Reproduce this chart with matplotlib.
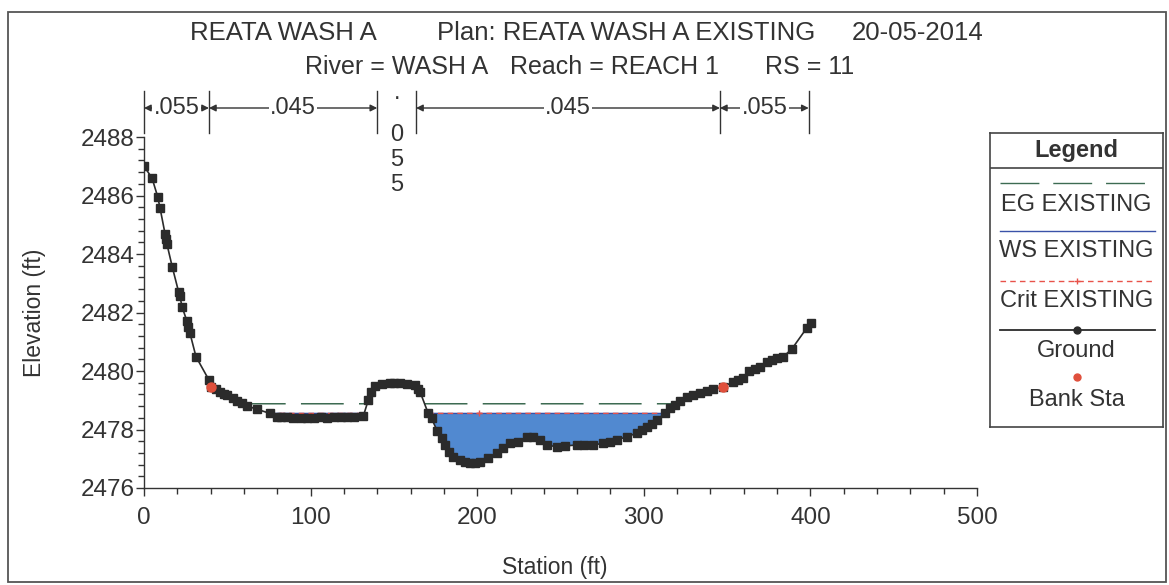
import numpy as np
import matplotlib
matplotlib.use("Agg")
import matplotlib.pyplot as plt
from matplotlib.patches import Rectangle

plt.rcParams['font.family'] = ['Liberation Sans', 'DejaVu Sans']

# ---------------- data ----------------
title_line1 = ["REATA WASH A", "Plan: REATA WASH A EXISTING", "20-05-2014"]
title_line2 = ["River = WASH A", "Reach = REACH 1", "RS = 11"]

ground_sta = [0, 4.8, 8.2, 9.6, 12.6, 13.2, 13.8, 17.0, 20.8, 21.6, 22.8, 25.8, 26.6,
              27.6, 31.2, 39.0, 40.0, 43.0, 45.6, 48.0, 49.6, 53.6, 56.0, 58.6, 62.0,
              68.0, 75.6, 79.6, 82, 86, 89.6, 94, 97.6, 102, 106, 110, 114, 118, 122,
              126, 131.6, 134.6, 136.2, 138.6, 143, 147.7, 150, 153.7, 158, 162.7,
              164.5, 165.7, 170.6, 172.6, 176, 178.6, 180.7, 183.3, 185.7, 189.7,
              192.7, 195.7, 198.7, 201.7, 206.7, 211.7, 215.7, 219.7, 224.7, 229.7,
              233.7, 237.7, 241.7, 247.7, 253, 259.7, 264, 269.7, 275.7, 279.7, 283.7,
              289.7, 295.7, 298.7, 301.7, 304.7, 307.7, 312.7, 315.7, 318.7, 321.7,
              325.7, 329.7, 333.7, 337.7, 341.7, 347.5, 353.7, 356.7, 359.7, 363.3,
              366.7, 369.7, 373.7, 376.7, 379.7, 383.7, 388.7, 397.7, 400.3]
ground_elev = [2487.0, 2486.6, 2485.96, 2485.58, 2484.7, 2484.5, 2484.33, 2483.55, 2482.7,
               2482.55, 2482.2, 2481.7, 2481.5, 2481.29, 2480.49, 2479.69, 2479.46, 2479.38,
               2479.29, 2479.22, 2479.18, 2479.07, 2478.98, 2478.9, 2478.8, 2478.69, 2478.55,
               2478.44, 2478.42, 2478.42, 2478.4, 2478.41, 2478.38, 2478.4, 2478.42, 2478.41,
               2478.42, 2478.42, 2478.43, 2478.43, 2478.45, 2479.0, 2479.29, 2479.49, 2479.57,
               2479.6, 2479.6, 2479.58, 2479.56, 2479.52, 2479.4, 2479.29, 2478.55, 2478.38,
               2477.95, 2477.7, 2477.47, 2477.24, 2477.07, 2476.96, 2476.88, 2476.84, 2476.86,
               2476.9, 2477.01, 2477.19, 2477.36, 2477.53, 2477.58, 2477.75, 2477.75, 2477.64,
               2477.47, 2477.41, 2477.44, 2477.47, 2477.47, 2477.47, 2477.53, 2477.58, 2477.64,
               2477.75, 2477.87, 2477.98, 2478.1, 2478.2, 2478.32, 2478.55, 2478.72, 2478.84,
               2478.98, 2479.12, 2479.18, 2479.24, 2479.3, 2479.37, 2479.46, 2479.63, 2479.69,
               2479.75, 2480.0, 2480.08, 2480.15, 2480.32, 2480.38, 2480.43, 2480.49, 2480.74,
               2481.46, 2481.65]

bank_sta = [40.0, 347.5]
ws_elev = 2478.55
crit_elev = 2478.55
crit_sta = 201.0
eg_elev = 2478.88

n_break_sta = [0, 39, 140, 163.3, 345.7, 399]
n_values = [".055", ".045", ".055", ".045", ".055"]

x_ticks = [0, 100, 200, 300, 400, 500]
y_ticks = [2476, 2478, 2480, 2482, 2484, 2486, 2488]

legend_labels = ["EG EXISTING", "WS EXISTING", "Crit EXISTING", "Ground", "Bank Sta"]

# ---------------- styles ----------------
FS_TICK = 17.5
FS_AX = 16.5
FS_T = 18.5
FS_L = 17
EG_COLOR = '#3d6b52'
WS_COLOR = '#3a52a8'
CRIT_COLOR = '#e8524a'
FILL_COLOR = '#5189d0'
GROUND_COLOR = '#2b2b2b'
BANK_COLOR = '#e0503c'
TXT = '#333333'

W, H = 1169, 585
fig = plt.figure(figsize=(W / 100, H / 100), dpi=100)

# figure frame
fig.add_artist(Rectangle((8 / W, 1 - 582 / H), (1166 - 8) / W, (582 - 12) / H,
                         transform=fig.transFigure, fill=False, ec='#555555', lw=1.3))

ax = fig.add_axes([144 / W, 1 - 488 / H, (977 - 144) / W, (488 - 137) / H])
ax.set_xlim(0, 500)
ax.set_ylim(2476, 2488)
for s in ['top', 'right']:
    ax.spines[s].set_visible(False)
for s in ['left', 'bottom']:
    ax.spines[s].set_color('#333333')
    ax.spines[s].set_linewidth(1.0)

ax.set_xticks(x_ticks)
ax.set_yticks(y_ticks)
ax.set_xticks(np.arange(0, 501, 20), minor=True)
ax.set_yticks(np.arange(2476, 2488.01, 0.4), minor=True)
ax.tick_params(which='major', direction='out', length=6, width=1, colors='#333333',
               labelsize=FS_TICK, labelcolor=TXT)
ax.tick_params(axis='x', which='major', pad=8)
ax.tick_params(axis='y', which='major', pad=0.5)
ax.tick_params(which='minor', direction='out', length=4, width=1, colors='#333333')

ax.set_xlabel('Station (ft)', fontsize=FS_AX, color=TXT)
ax.set_ylabel('Elevation (ft)', fontsize=FS_AX, color=TXT)
ax.xaxis.set_label_coords((555 - 144) / 833, (488 - 556) / 351)
ax.yaxis.set_label_coords((46 - 144) / 833, (488 - 313) / 351)

gs = np.array(ground_sta)
ge = np.array(ground_elev)
fine = np.linspace(gs.min(), gs.max(), 4000)
gfine = np.interp(fine, gs, ge)

# water fill
ax.fill_between(fine, gfine, ws_elev, where=gfine <= ws_elev, color=FILL_COLOR,
                lw=0, zorder=1)
# WS line
ws_line = np.where(gfine <= ws_elev + 0.005, ws_elev, np.nan)
ax.plot(fine, ws_line, color=WS_COLOR, lw=1.0, zorder=2)
# Crit line
ax.plot(fine, ws_line * 0 + crit_elev, color=CRIT_COLOR, lw=1.0, dashes=(4, 3), zorder=3)
ax.plot([crit_sta], [crit_elev], marker='+', color=CRIT_COLOR, ms=5, mew=1, zorder=3)
# EG line
eg_line = np.where(gfine <= eg_elev, eg_elev, np.nan)
ax.plot(fine, eg_line, color=EG_COLOR, lw=1.1, dashes=(28, 10), zorder=2)
# ground
ax.plot(gs, ge, color=GROUND_COLOR, lw=1.2, marker='s', ms=6, mfc=GROUND_COLOR,
        mec=GROUND_COLOR, zorder=4)
# bank stations
ax.plot(bank_sta, np.interp(bank_sta, gs, ge), 'o', color=BANK_COLOR, ms=6.5, zorder=5)

# Manning's n markers
trans = ax.get_xaxis_transform()
def fy(px):
    return 1 + (137 - px) / 351

y_lo, y_hi, y_arrow = fy(133), fy(91), fy(108)
for s in n_break_sta:
    ax.plot([s, s], [y_lo, y_hi], transform=trans, color='#333333', lw=1.0, clip_on=False)
vert_centers = [93, 135, 160, 185]
for i, v in enumerate(n_values):
    a, b = n_break_sta[i], n_break_sta[i + 1]
    mid = (a + b) / 2
    if b - a < 30:
        for ch, py in zip(v, vert_centers):
            ax.text(mid, fy(py), ch, transform=trans, ha='center', va='center',
                    fontsize=FS_L, color=TXT)
        continue
    ax.annotate('', xy=(b, y_arrow), xytext=(a, y_arrow), xycoords=trans, textcoords=trans,
                arrowprops=dict(arrowstyle='<|-|>', color='#333333', lw=1.0,
                                shrinkA=0, shrinkB=0, mutation_scale=10),
                annotation_clip=False)
    ax.text(mid, y_arrow, v, transform=trans, ha='center', va='center', fontsize=FS_L,
            color=TXT, bbox=dict(fc='white', ec='none', pad=1.0))

# titles
for txt, x in zip(title_line1, [190, 437, 852]):
    fig.text(x / W, 1 - 33 / H, txt, ha='left', va='center', fontsize=FS_T, color=TXT)
for txt, x in zip(title_line2, [305, 510, 765]):
    fig.text(x / W, 1 - 67 / H, txt, ha='left', va='center', fontsize=18, color=TXT)

# legend box
lx0, ly0, lx1, ly1 = 990, 133, 1163, 427
lax = fig.add_axes([lx0 / W, 1 - ly1 / H, (lx1 - lx0) / W, (ly1 - ly0) / H])
lax.set_xlim(0, lx1 - lx0)
lax.set_ylim(ly1 - ly0, 0)
lax.set_xticks([])
lax.set_yticks([])
for sp in lax.spines.values():
    sp.set_color('#444444')
    sp.set_linewidth(1.2)
lw_ = lx1 - lx0
lax.text(lw_ / 2, 17, "Legend", ha='center', va='center', fontsize=FS_L, fontweight='bold',
         color=TXT)
lax.plot([0, lw_], [35, 35], color='#444444', lw=1.2)
x_a, x_b = 10, lw_ - 8
lax.plot([x_a, x_b], [50, 50], color=EG_COLOR, lw=1.0, dashes=(28, 10))
lax.text(lw_ / 2, 72, legend_labels[0], ha='center', va='center', fontsize=FS_L, color=TXT)
lax.plot([x_a, x_b], [98, 98], color=WS_COLOR, lw=1.0)
lax.text(lw_ / 2, 118, legend_labels[1], ha='center', va='center', fontsize=FS_L, color=TXT)
lax.plot([x_a, x_b], [148, 148], color=CRIT_COLOR, lw=1.0, dashes=(4, 3))
lax.plot([lw_ / 2], [148], marker='+', color=CRIT_COLOR, ms=5, mew=1)
lax.text(lw_ / 2, 168, legend_labels[2], ha='center', va='center', fontsize=FS_L, color=TXT)
lax.plot([x_a, x_b], [197, 197], color=GROUND_COLOR, lw=1.3)
lax.plot([lw_ / 2], [197], marker='o', color=GROUND_COLOR, ms=5)
lax.text(lw_ / 2, 218, legend_labels[3], ha='center', va='center', fontsize=FS_L, color=TXT)
lax.plot([lw_ / 2], [244], marker='o', color=BANK_COLOR, ms=5)
lax.text(lw_ / 2, 267, legend_labels[4], ha='center', va='center', fontsize=FS_L, color=TXT)

fig.savefig('out.png', dpi=100)
